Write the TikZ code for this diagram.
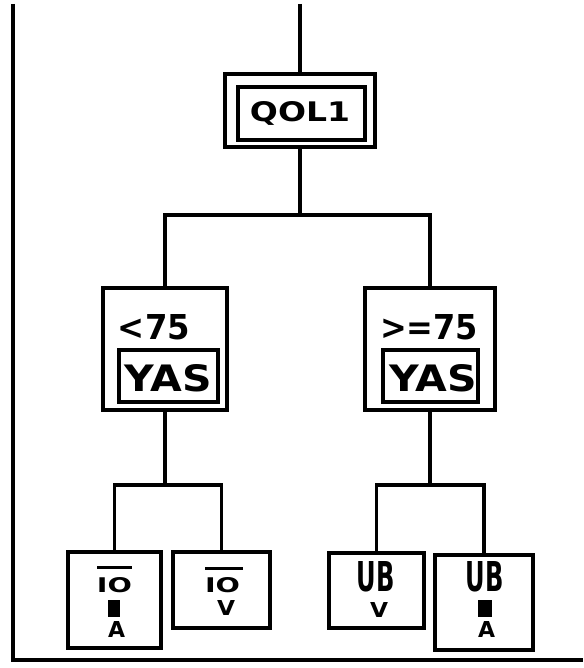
\documentclass[tikz,border=0pt]{standalone}
\usepackage{fontspec}
\setmainfont{DejaVu Sans}
\tikzset{
  outerbox/.style={draw, line width=4.5pt, minimum width=#1, inner sep=0pt},
  innerbox/.style={draw, line width=3.5pt, inner sep=0pt},
  conn/.style={line width=3.5pt},
  lbl/.style={inner sep=0pt, font=\bfseries},
  blk/.style={fill=black, inner sep=0pt}
}
\newcommand{\fit}[3]{\resizebox{#1pt}{#2pt}{#3}}
\begin{document}
\begin{tikzpicture}[x=1pt,y=-1pt]
\useasboundingbox (0,0) rectangle (583,668);
% frame
\draw[line width=4.5pt] (13,4) -- (13,660) -- (583,660);
% top node
\node[outerbox=150pt, minimum height=73pt] (qol) at (300,110.5) {};
\node[innerbox, minimum width=127pt, minimum height=53pt] (qolin) at (301.5,113.5) {};
\node[lbl] (qoltxt) at (300,113) {\fit{100}{20}{QOL1}};
\coordinate (top) at (300,4);
\draw[conn] (top) -- (qol.north);
% middle nodes
\node[outerbox=124pt, minimum height=122pt] (mL) at (165,349) {};
\node[innerbox, minimum width=99pt, minimum height=52pt] (mLin) at (168.5,376) {};
\node[lbl] (mLtxt) at (154,327.5) {\fit{72}{25}{<75}};
\node[lbl] (mLyas) at (168.5,378.5) {\fit{87}{27}{YAS}};
\node[outerbox=130pt, minimum height=122pt] (mR) at (430,349) {};
\node[innerbox, minimum width=95pt, minimum height=52pt] (mRin) at (430.5,376) {};
\node[lbl] (mRtxt) at (429,327.5) {\fit{98}{25}{>=75}};
\node[lbl] (mRyas) at (433.5,378.5) {\fit{87}{27}{YAS}};
\coordinate (j1) at (300,215);
\draw[conn] (qol.south) -- (j1);
\draw[conn] (mL.north) |- (j1) -| (mR.north);
% leaves
\node[outerbox=93pt, minimum height=96pt] (l1) at (114.5,600) {};
\node[outerbox=97pt, minimum height=76pt] (l2) at (221.5,590) {};
\node[outerbox=95pt, minimum height=75pt] (l3) at (376.5,590.5) {};
\node[outerbox=98pt, minimum height=95pt] (l4) at (484,602.5) {};
\coordinate (j2) at (165,485);
\coordinate (j3) at (430,485);
\draw[conn] (mL.south) -- (j2);
\draw[conn] (l1.north) |- (j2) -| (l2.north);
\draw[conn] (mR.south) -- (j3);
\draw[conn] (l3.north) |- (j3) -| (l4.north);
% leaf texts
\node[blk, minimum width=35pt, minimum height=3pt] (l1bar) at (114.5,567.5) {};
\node[lbl] (l1a) at (114.5,585.5) {\fit{35}{15}{IO}};
\node[blk, minimum width=12pt, minimum height=17pt] (l1b) at (114,608.5) {};
\node[lbl] (l1c) at (116.5,629) {\fit{17}{16}{A}};
\node[blk, minimum width=38pt, minimum height=3pt] (l2bar) at (223.5,568) {};
\node[lbl] (l2a) at (222.5,585.5) {\fit{35}{15}{IO}};
\node[lbl] (l2b) at (226,608) {\fit{18}{15}{V}};
\node[lbl] (l3a) at (375.5,577) {\fit{38}{30}{UB}};
\node[lbl] (l3b) at (379,609.5) {\fit{18}{15}{V}};
\node[lbl] (l4a) at (484.5,577) {\fit{38}{30}{UB}};
\node[blk, minimum width=14pt, minimum height=17pt] (l4b) at (485,608.5) {};
\node[lbl] (l4c) at (486.5,629) {\fit{17}{16}{A}};
\end{tikzpicture}
\end{document}
